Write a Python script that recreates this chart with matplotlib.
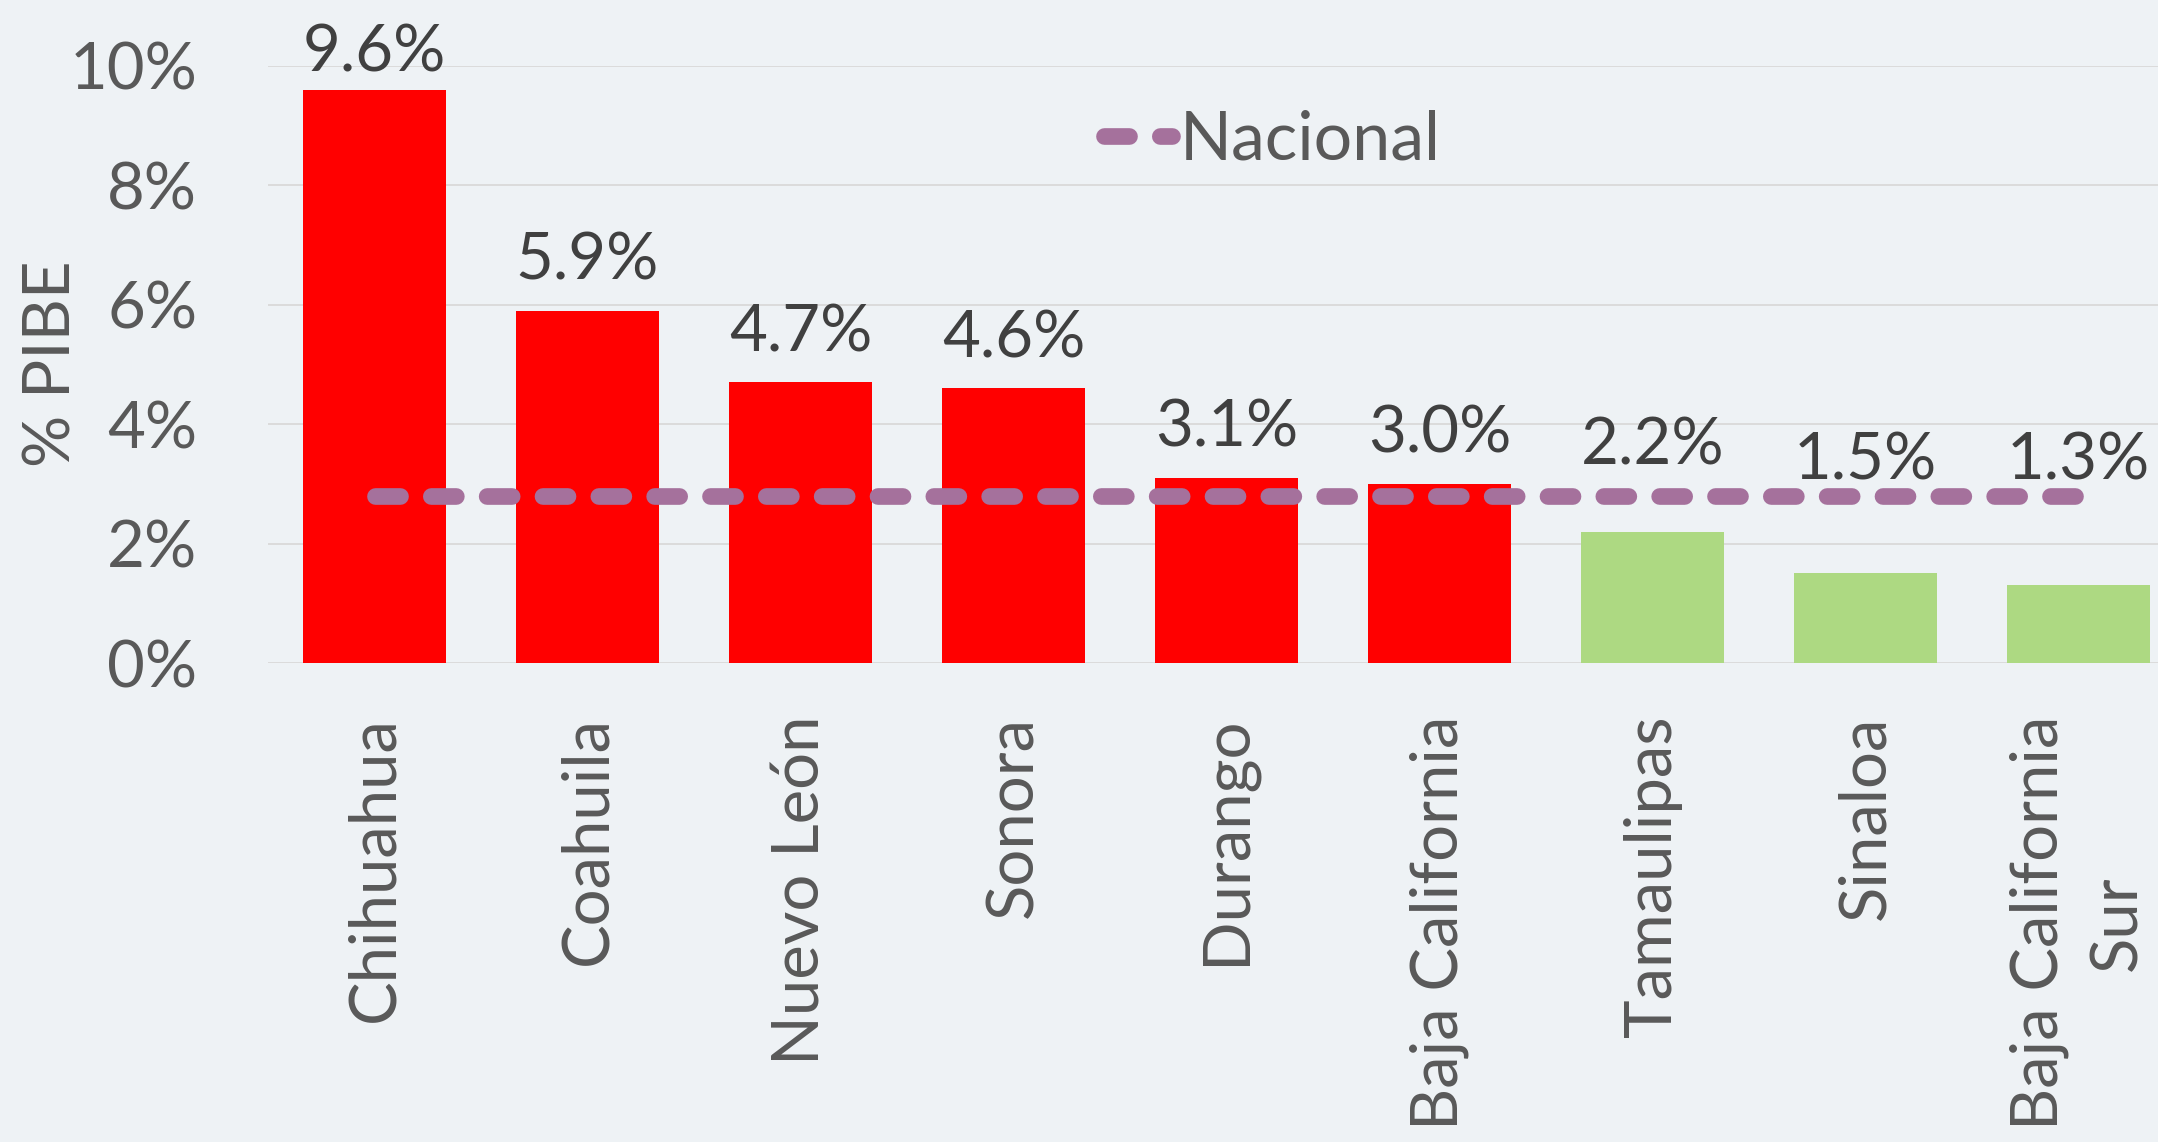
import matplotlib.pyplot as plt

estados = ["Chihuahua", "Coahuila", "Nuevo León", "Sonora", "Durango",
           "Baja California", "Tamaulipas", "Sinaloa", "Baja California\nSur"]
pibe = [9.6, 5.9, 4.7, 4.6, 3.1, 3.0, 2.2, 1.5, 1.3]
nacional = 2.8

fondo = "#EEF2F5"
rojo = "#FF0000"
verde = "#ADD982"
morado = "#A5719C"

plt.rcParams["font.family"] = ["Lato", "DejaVu Sans"]

fig = plt.figure(figsize=(21.58, 11.42), dpi=100, facecolor=fondo)
ax = fig.add_axes([268 / 2158, 479 / 1142, 1917 / 2158, 597 / 1142])
ax.set_facecolor(fondo)

x = list(range(len(estados)))
# rojo si el estado supera el promedio nacional
colores = [rojo if v > nacional else verde for v in pibe]
ax.bar(x, pibe, width=0.67, color=colores, zorder=2)

ax.plot(x, [nacional] * len(x), color=morado, lw=12, linestyle=(0, (1.5, 1.85)),
        dash_capstyle="round", solid_capstyle="round", zorder=3, label="Nacional")

# etiquetas de valor; las de barras bajo la línea nacional se suben por encima de ella
for i, v in enumerate(pibe):
    if v > nacional:
        y = min(v + 0.52, 9.9)
    else:
        y = max(v + 1.12, nacional + 0.28)
    ax.text(i, y, f"{v:.1f}%", ha="center", va="baseline",
            fontsize=47, color="#404040", zorder=4, clip_on=False)

ax.set_xlim(-0.5, 8.5)
ax.set_ylim(0, 10)
ax.set_yticks(range(0, 11, 2))
ax.set_yticklabels([f"{t}%" for t in range(0, 11, 2)])
ax.grid(axis="y", color="#D9D9D9", lw=1.3, zorder=0)
ax.set_axisbelow(True)

ax.set_xticks(x)
ax.set_xticklabels(estados, rotation=90, va="top", ha="center",
                   multialignment="center", linespacing=1.4)
ax.tick_params(axis="x", length=0, pad=38, labelsize=47, labelcolor="#595959")
ax.tick_params(axis="y", length=0, pad=51, labelsize=47, labelcolor="#595959")
for s in ax.spines.values():
    s.set_visible(False)

fig.text(52 / 2158, 1 - 364 / 1142, "% PIBE", rotation=90, ha="center", va="center",
         fontsize=47, color="#595959")

ax.legend(loc="center left", bbox_to_anchor=(836 / 1917, 1 - (141 - 66) / 597),
          frameon=False, fontsize=49, handlelength=1.0, handletextpad=0.12,
          labelcolor="#595959", borderaxespad=0, borderpad=0)

fig.savefig("out.png", dpi=100, facecolor=fondo)
